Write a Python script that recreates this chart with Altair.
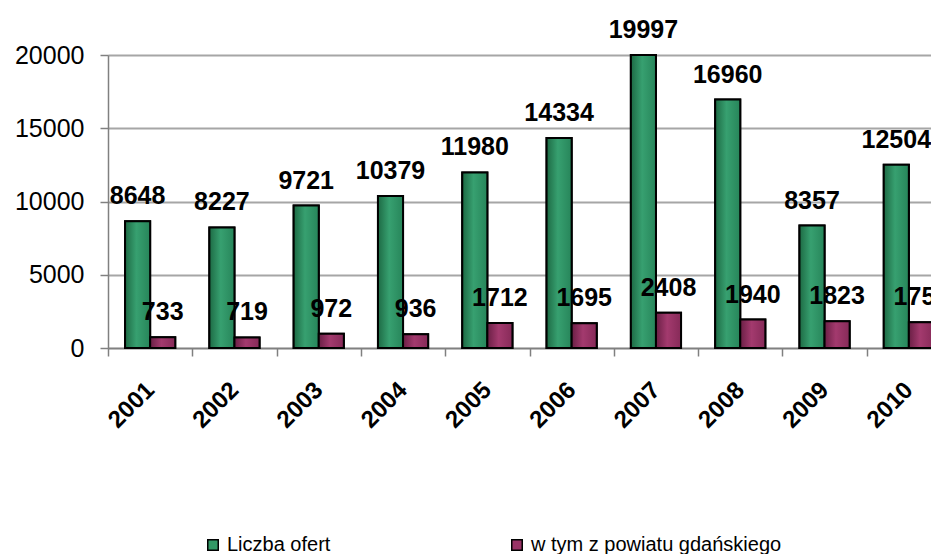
import altair as alt
import pandas as pd

years = ["2001", "2002", "2003", "2004", "2005", "2006", "2007", "2008", "2009", "2010"]
liczba_ofert = [8648, 8227, 9721, 10379, 11980, 14334, 19997, 16960, 8357, 12504]
powiat = [733, 719, 972, 936, 1712, 1695, 2408, 1940, 1823, 1755]
series = ["Liczba ofert", "w tym z powiatu gdańskiego"]
colors = ["#339966", "#993366"]

rows = []
for i, y in enumerate(years):
    rows.append({"rok": y, "seria": series[0], "wartosc": liczba_ofert[i]})
    rows.append({"rok": y, "seria": series[1], "wartosc": powiat[i]})
df = pd.DataFrame(rows)

FONT = "Liberation Sans"

x = alt.X("rok:N", title=None, sort=years,
          scale=alt.Scale(paddingInner=0, paddingOuter=0, range=[0, 843]),
          axis=alt.Axis(labelAngle=-45, labelAlign="right", labelBaseline="middle",
                        labelFont=FONT, labelFontSize=24, labelFontWeight="bold",
                        labelColor="black", labelPadding=30, tickBand="extent",
                        tickSize=8, tickColor="#808080", domainColor="#808080",
                        domainWidth=1.5, tickWidth=1.5, grid=False))
xo = alt.XOffset("seria:N", sort=series,
                 scale=alt.Scale(paddingOuter=0.68, paddingInner=0))
y = alt.Y("wartosc:Q", title=None,
          scale=alt.Scale(domain=[0, 20000], nice=False),
          axis=alt.Axis(values=[0, 5000, 10000, 15000, 20000], format="d",
                        labelFont=FONT, labelFontSize=25, labelColor="black",
                        labelPadding=16, tickSize=8, tickColor="#808080",
                        domainColor="#808080", domainWidth=1.5, tickWidth=1.5,
                        gridColor="#a6a6a6", gridWidth=2))

base = alt.Chart(df)

bars = base.mark_bar(stroke="black", strokeWidth=2).encode(
    x=x, xOffset=xo, y=y,
    color=alt.Color("seria:N", sort=series,
                    scale=alt.Scale(domain=series, range=colors),
                    legend=alt.Legend(title=None, orient="none", direction="horizontal",
                                      columns=2, legendX=95, legendY=480,
                                      labelFont=FONT, labelFontSize=20,
                                      labelColor="black", symbolType="square",
                                      symbolSize=110, symbolStrokeColor="black",
                                      symbolStrokeWidth=1.5, columnPadding=176,
                                      labelOffset=4, padding=0, labelLimit=400)),
)

def grad(c0, c1, c2):
    return alt.Gradient(gradient="linear", x1=0, x2=1, y1=0, y2=0,
                        stops=[alt.GradientStop(offset=0, color=c0),
                               alt.GradientStop(offset=0.45, color=c1),
                               alt.GradientStop(offset=1, color=c2)])

g1 = base.transform_filter(alt.datum.seria == series[0]).mark_bar(
    stroke="black", strokeWidth=2, fill=grad("#1d6a44", "#37a070", "#27855a")
).encode(x=x, xOffset=xo, y=y)
g2 = base.transform_filter(alt.datum.seria == series[1]).mark_bar(
    stroke="black", strokeWidth=2, fill=grad("#6a1f45", "#a33a6e", "#862a58")
).encode(x=x, xOffset=xo, y=y)

labels = base.mark_text(font=FONT, fontSize=25, fontWeight="bold", color="black",
                        baseline="alphabetic", dy=-17).encode(
    x=x, xOffset=xo, y=y, text=alt.Text("wartosc:Q", format="d"))

chart = alt.layer(bars, g1, g2, labels).properties(
    width=823, height=293,
    autosize=alt.AutoSizeParams(type="none"),
    padding={"left": 100, "top": 47, "right": 0, "bottom": 206},
).configure_view(stroke=None).configure(background="white")

chart.save("out.html", embed_options={"renderer": "svg", "actions": False})
